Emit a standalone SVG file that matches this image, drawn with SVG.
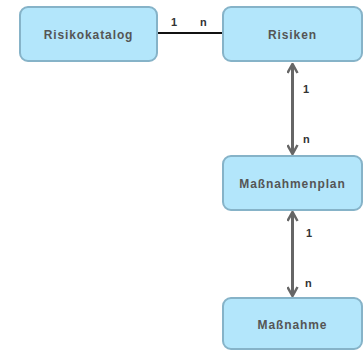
<svg xmlns="http://www.w3.org/2000/svg" width="364" height="351" viewBox="0 0 364 351">
<defs>
<style>
.box{fill:#b3e6fb;stroke:#86b3c8;stroke-width:2}
.lbl{font-family:"Liberation Sans",Arial,sans-serif;font-weight:bold;font-size:12px;fill:#555;text-anchor:middle;letter-spacing:0.9px}
.card{font-family:"Liberation Sans",Arial,sans-serif;font-weight:bold;font-size:11px;fill:#333}
.arr{stroke:#666;stroke-width:3;fill:none}
</style>
<marker id="ah" viewBox="0 0 12 12" refX="11" refY="6" markerWidth="12" markerHeight="12" markerUnits="userSpaceOnUse" orient="auto-start-reverse">
<path d="M2,1 L11,6 L2,11" fill="none" stroke="#666" stroke-width="2.5"/>
</marker>
</defs>
<g id="connectors">
<line x1="157" y1="33" x2="223" y2="33" stroke="#111" stroke-width="2"/>
<text class="card" x="171" y="26">1</text>
<text class="card" x="200" y="26">n</text>
<line class="arr" x1="292.5" y1="64" x2="292.5" y2="154" marker-start="url(#ah)" marker-end="url(#ah)"/>
<text class="card" x="303" y="93">1</text>
<text class="card" x="303" y="143">n</text>
<line class="arr" x1="292.5" y1="212" x2="292.5" y2="296" marker-start="url(#ah)" marker-end="url(#ah)"/>
<text class="card" x="306" y="237">1</text>
<text class="card" x="305" y="287">n</text>
</g>
<g id="risikokatalog">
<rect class="box" x="20" y="7" width="137" height="54" rx="8"/>
<text class="lbl" x="88.5" y="38.5">Risikokatalog</text>
</g>
<g id="risiken">
<rect class="box" x="223" y="7" width="139" height="54" rx="8"/>
<text class="lbl" x="292.5" y="38.5">Risiken</text>
</g>
<g id="massnahmenplan">
<rect class="box" x="223" y="156" width="139" height="54" rx="8"/>
<text class="lbl" x="292.5" y="187.5">Maßnahmenplan</text>
</g>
<g id="massnahme">
<rect class="box" x="223" y="298" width="139" height="51" rx="8"/>
<text class="lbl" x="292.5" y="328.5">Maßnahme</text>
</g>
</svg>
